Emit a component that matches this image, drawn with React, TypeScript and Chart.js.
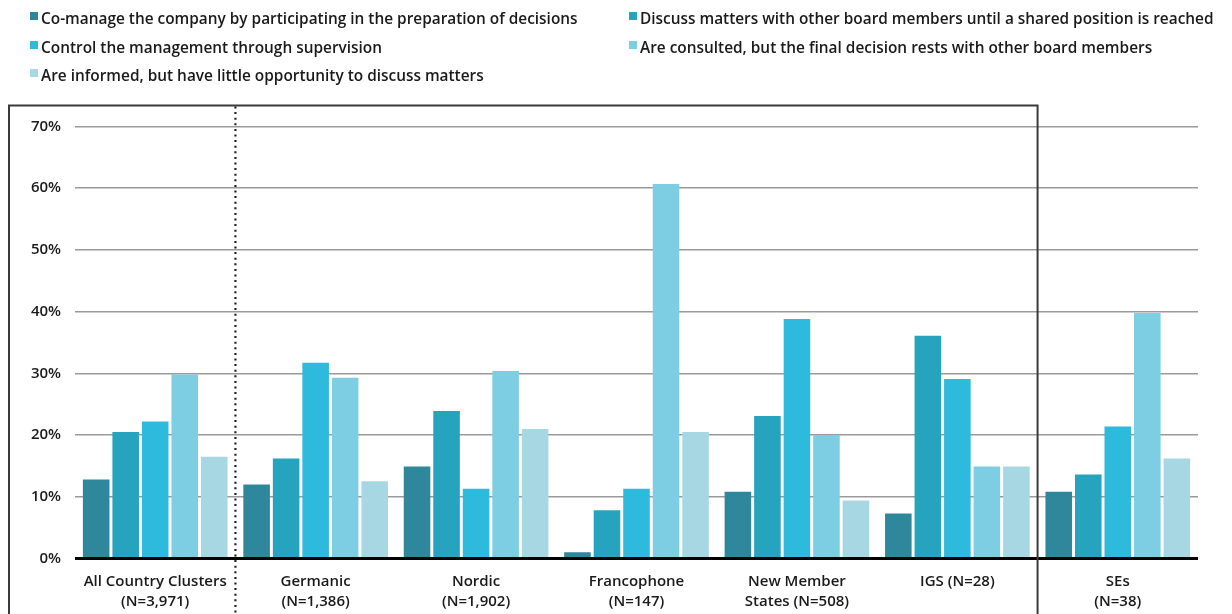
import React, { useEffect, useRef } from "react";
import { Chart, registerables } from "chart.js";

Chart.register(...registerables);

const categories: string[][] = [
  ["All Country Clusters", "(N=3,971)"],
  ["Germanic", "(N=1,386)"],
  ["Nordic", "(N=1,902)"],
  ["Francophone", "(N=147)"],
  ["New Member", "States (N=508)"],
  ["IGS (N=28)"],
  ["SEs", "(N=38)"],
];

const seriesNames = [
  "Co-manage the company by participating in the preparation of decisions",
  "Discuss matters with other board members until a shared position is reached",
  "Control the management through supervision",
  "Are consulted, but the final decision rests with other board members",
  "Are informed, but have little opportunity to discuss matters",
];

const coManage = [12.8, 12.0, 14.9, 1.0, 10.8, 7.3, 10.8];
const discuss = [20.5, 16.2, 23.9, 7.8, 23.1, 36.1, 13.6];
const control = [22.2, 31.7, 11.3, 11.3, 38.8, 29.1, 21.4];
const consulted = [29.8, 29.3, 30.4, 60.7, 20.0, 14.9, 39.8];
const informed = [16.5, 12.5, 21.0, 20.5, 9.4, 14.9, 16.2];

const seriesValues = [coManage, discuss, control, consulted, informed];
const seriesColors = ["#2f879c", "#27a4bd", "#2ebadc", "#7ecee3", "#a8d7e4"];

const yMin = 0;
const yMax = 70;
const yStep = 10;

const FONT = "'Open Sans', 'Noto Sans', sans-serif";
const W = 1232;
const H = 614;

const decorPlugin = {
  id: "decor",
  afterDraw(chart: any) {
    const { ctx, chartArea, scales } = chart;
    const x = scales.x;
    const topY = chartArea.top - 21;
    ctx.save();
    ctx.strokeStyle = "#3a3a3a";
    ctx.lineWidth = 2;
    const solidX = (x.getPixelForValue(5) + x.getPixelForValue(6)) / 2;
    ctx.beginPath();
    ctx.moveTo(9, H);
    ctx.lineTo(9, topY);
    ctx.lineTo(solidX, topY);
    ctx.lineTo(solidX, H);
    ctx.stroke();
    const dotX = (x.getPixelForValue(0) + x.getPixelForValue(1)) / 2;
    ctx.strokeStyle = "#222";
    ctx.lineWidth = 2.2;
    ctx.setLineDash([2, 3.6]);
    ctx.beginPath();
    ctx.moveTo(dotX, topY + 1);
    ctx.lineTo(dotX, H);
    ctx.stroke();
    ctx.restore();
  },
};

function Legend() {
  const positions = [
    { left: 30, top: 8 },
    { left: 629, top: 8 },
    { left: 30, top: 37 },
    { left: 629, top: 37 },
    { left: 30, top: 65 },
  ];
  return (
    <>
      {seriesNames.map((name, i) => (
        <div
          key={name}
          style={{
            position: "absolute",
            left: positions[i].left,
            top: positions[i].top,
            display: "flex",
            alignItems: "flex-start",
            fontFamily: FONT,
            fontWeight: 600,
            fontSize: 15.4,
            lineHeight: "21px",
            color: "#1a1a1a",
            whiteSpace: "nowrap",
          }}
        >
          <span
            style={{
              display: "inline-block",
              width: 8,
              height: 8,
              marginTop: 4,
              marginRight: 3,
              background: seriesColors[i],
            }}
          />
          <span>{name}</span>
        </div>
      ))}
    </>
  );
}

export default function App() {
  const ref = useRef<HTMLCanvasElement | null>(null);

  useEffect(() => {
    document.body.style.margin = "0";
    document.body.style.overflow = "hidden";
    if (!ref.current) return;
    const chart = new Chart(ref.current, {
      type: "bar",
      data: {
        labels: categories,
        datasets: seriesValues.map((vals, i) => ({
          label: seriesNames[i],
          data: vals,
          backgroundColor: seriesColors[i],
          borderWidth: 0,
          categoryPercentage: 0.92,
          barPercentage: 0.9,
        })),
      },
      options: {
        animation: false,
        responsive: false,
        maintainAspectRatio: false,
        layout: { padding: { top: 126.5, right: 34, left: 0, bottom: 0 } },
        plugins: {
          legend: { display: false },
          tooltip: { enabled: false },
        },
        scales: {
          x: {
            grid: { display: false, drawTicks: false },
            border: { display: false },
            ticks: {
              padding: 13,
              color: "#1a1a1a",
              font: { family: FONT, size: 15, weight: "600", lineHeight: 1.33 },
              maxRotation: 0,
              autoSkip: false,
            },
            afterFit(scale: any) {
              scale.height = 55.5;
            },
          },
          y: {
            min: yMin,
            max: yMax,
            border: { display: false },
            grid: {
              drawTicks: false,
              color: (c: any) => (c.tick && c.tick.value === 0 ? "#000" : "#9a9a9a"),
              lineWidth: (c: any) => (c.tick && c.tick.value === 0 ? 3 : 1.5),
            },
            ticks: {
              stepSize: yStep,
              padding: 14,
              color: "#1a1a1a",
              font: { family: FONT, size: 15, weight: "600" },
              callback: (v: any) => `${v}%`,
            },
            afterFit(scale: any) {
              scale.width = 75;
            },
          },
        },
      },
      plugins: [decorPlugin],
    });
    return () => chart.destroy();
  }, []);

  return (
    <div style={{ position: "relative", width: W, height: H, overflow: "hidden", background: "#fff" }}>
      <canvas ref={ref} width={W} height={H} style={{ position: "absolute", left: 0, top: 0 }} />
      <Legend />
    </div>
  );
}
